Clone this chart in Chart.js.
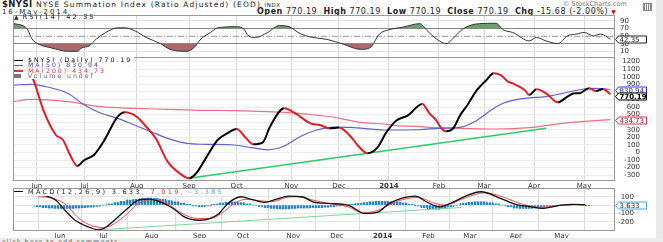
<!DOCTYPE html>
<html><head><meta charset="utf-8">
<script src="https://cdn.jsdelivr.net/npm/chart.js@4.4.0/dist/chart.umd.min.js"></script>
<style>
body{margin:0;width:663px;height:242px;overflow:hidden;background:#fff;position:relative;font-family:"DejaVu Sans",sans-serif;}
.t{position:absolute;white-space:nowrap;font-size:7.5px;line-height:8px;color:#222}
canvas{position:absolute;left:0}
.lg{position:absolute;left:14px;top:57px;background:#fff;font-size:6.2px;letter-spacing:2px;line-height:5.3px;white-space:nowrap;padding:0 2px 1px 0}
.lg i{display:inline-block;width:9px;height:1.5px;vertical-align:middle;margin-right:5px}
</style></head><body>

<div class="t" style="left:2px;top:0px;line-height:9px;letter-spacing:1.15px"><b style="font-size:8.5px;letter-spacing:0.4px">$NYSI</b> NYSE Summation Index (Ratio Adjusted) (EOD) <span style="font-size:5.5px;letter-spacing:0.6px">INDX</span></div>
<div class="t" style="left:563px;top:0px;color:#777;font-size:6.5px;letter-spacing:0px">© StockCharts.com</div>
<div style="position:absolute;left:643px;top:3px;width:7px;height:6px;border:1px solid #888;background:repeating-linear-gradient(90deg,#888 0 1px,#fff 1px 2px)"></div>
<div class="t" style="left:2px;top:7.5px;font-size:7px;letter-spacing:1.9px">16-May-2014</div>
<div class="t" style="left:257px;top:7.5px;font-size:8px;letter-spacing:0.55px"><b>Open</b> 770.19 &nbsp;<b>High</b> 770.19 &nbsp;<b>Low</b> 770.19 &nbsp;<b>Close</b> 770.19 &nbsp;<b>Chg</b> -15.68 (-2.00%) <span style="color:#d00;font-size:6px">▼</span></div>

<canvas id="rsi" width="663" height="44" style="top:14px"></canvas>
<canvas id="main" width="663" height="134" style="top:56px"></canvas>
<canvas id="macd" width="663" height="54" style="top:187px"></canvas>

<div class="t" style="left:14px;top:13px;font-size:6.5px;letter-spacing:2.2px"><span style="font-size:6px;letter-spacing:0;margin-right:4px">▲</span>RSI(14) 42.35</div>
<div class="lg">
<div><i style="background:#000"></i>$NYSI (Daily) 770.19</div>
<div style="color:#3a3ab8"><i style="background:#5b5bd6"></i>MA(50) 830.94</div>
<div style="color:#e0304a"><i style="background:#e0304a"></i>MA(200) 434.73</div>
<div style="color:#666"><i style="background:#777;height:4px;width:7px;margin-right:7px"></i>Volume undef</div>
</div>
<div class="t" style="left:14px;top:188.5px;font-size:6.5px;letter-spacing:2.3px;background:#fff;line-height:7px"><span style="display:inline-block;width:9px;height:1.5px;background:#000;vertical-align:middle;margin-right:5px"></span>MACD(12,26,9) 3.633<span style="color:#e33">, 7.019</span><span style="color:#4ab0e0">, -3.385</span></div>

<div style="position:absolute;left:656px;top:0;width:7px;height:242px;background:#e9e9e9"></div>
<div style="position:absolute;left:0;top:238px;width:663px;height:4px;background:#ececec"></div>
<div class="t" style="left:2px;top:238px;color:#666;font-size:6.5px;letter-spacing:1px">click here to add comments</div>

<script>
// ---- data (x = trading-day index, 0 = first trading day of Jun 2013) ----
const monthTicks  = [0, 20, 42, 64, 84, 107, 127, 148, 169, 188, 209, 230];
const monthLabels = ['Jun','Jul','Aug','Sep','Oct','Nov','Dec','2014','Feb','Mar','Apr','May'];

const rsiTicks  = [10, 30, 50, 70, 90];
const mainTicks = [-300,-200,-100,0,100,200,300,400,500,600,700,800,900,1000,1100,1200];
const macdTicks = [-200, -100, 0, 100];

const priceDays = [-10,-6,-2,3,8,11,14,17,20,24,28,34,37,42,46,50,55,60,64,67,71,76,80,84,88,91,95,98,104,109,115,119,123,127,132,135,139,143,147,151,156,162,165,168,170,172,175,178,181,185,189,192,195,198,200,205,207,210,214,219,223,226,228,232,235,238,241];
const priceVals = [1200,1110,1000,538,231,165,-33,-178,-99,-33,142,472,530,472,340,187,-121,-274,-340,-274,-77,165,253,310,187,108,134,340,583,510,385,363,319,330,208,90,-11,60,270,420,490,640,517,420,320,280,319,495,627,825,957,1045,1022,934,913,825,759,834,781,662,737,781,781,847,811,838,770.19];

const ma50Days = [-10,-2,4,13,20,27,34,41,48,55,63,71,83,90,97,104,111,118,125,132,146,160,171,177,184,191,196,205,214,221,230,235,241];
const ma50Vals = [890,900,868,781,627,517,451,363,274,187,121,108,99,65,35,85,215,300,335,332,297,300,322,327,406,561,649,715,737,781,838,847,830.94];

const ma200Days = [-10,-2,13,27,41,55,69,83,97,110,118,123,132,138,146,151,160,165,179,193,207,221,235,241];
const ma200Vals = [670,702,670,604,583,570,557,552,538,517,490,475,420,390,376,355,345,332,319,310,327,385,420,434.73];

const trendDays = [64, 214];
const trendVals = [-340, 319];

const rsiDays = [-10,-4,-2,1,6,13,17,19,22,25,29,34,37,41,46,52,56,63,66,69,73,76,84,87,89,92,97,102,106,111,116,122,129,136,140,144,148,154,161,164,168,172,176,179,186,193,196,200,207,210,214,219,223,227,230,234,237,241];
const rsiVals = [84,69,43,29,20,11,11,20,25,43,60,72,72,65,47,31,16,11,20,43,60,72,75,69,51,47,60,78,75,56,47,42,29,16,20,56,67,74,83,65,43,31,51,69,83,84,67,60,38,47,38,31,51,56,60,51,56,42.35];
const rsiMidDays = [-10, 243];
const rsiMidVals = [50, 50];

const macdDays = [-10,-6,-2,3,7,13,17,20,25,31,36,41,46,52,57,64,68,73,77,83,88,94,99,105,111,116,123,132,140,146,151,163,168,174,179,186,193,202,209,216,221,230,235,241];
const macdVals = [120,108,60,-81,-181,-261,-293,-281,-181,-40,60,72,40,-40,-141,-181,-169,-100,20,100,69,33,69,108,100,40,20,0,-100,-81,20,108,40,-20,20,108,160,81,8,-20,-40,0,8,3.633];

const sigDays = [-10,-3,3,8,14,20,25,31,36,43,49,56,63,69,74,80,85,92,97,104,109,116,123,132,139,146,154,164,172,177,184,195,203,210,220,230,241];
const sigVals = [100,81,0,-141,-241,-269,-221,-100,20,69,20,-100,-160,-160,-100,20,69,52,40,93,100,60,20,-20,-93,-60,40,93,20,0,69,148,100,28,-28,0,7.019];

const histDays = [-10,-7,-4,-1,2,5,8,11,14,17,20,23,26,29,32,35,38,41,44,47,50,53,56,59,62,65,68,71,74,77,80,83,86,89,92,95,98,101,104,107,110,113,116,119,122,125,128,131,134,137,140,143,146,149,152,155,158,161,164,167,170,173,176,179,182,185,188,191,194,197,200,203,206,209,212,215,218,221,224,227,230,233,236,239,242];
const histVals = [-20,-30,-35,-40,-40,-40,-35,-30,-25,-15,0,15,30,45,60,70,80,85,80,70,55,40,25,10,-10,-20,-10,10,25,35,40,30,15,0,-15,-30,-40,-45,-45,-40,-35,-35,-30,-30,-25,-20,-10,0,10,20,30,40,45,45,40,35,25,10,-10,-30,-45,-50,-40,-20,0,20,35,40,40,30,15,0,-20,-35,-40,-40,-35,-25,-15,-10,-5,0,5,0,-3.385];

const macdTrendDays = [20, 184];
const macdTrendVals = [-293, -28];

// ---- helpers ----
const FONT = '"DejaVu Sans", sans-serif';
const X_MIN = -10, X_MAX = 243;
const pts = (xs, ys) => xs.map((x, i) => ({x, y: ys[i]}));

function xScale(labelH) {
  return {
    type: 'linear', min: X_MIN, max: X_MAX,
    afterBuildTicks: s => { s.ticks = monthTicks.map(v => ({value: v})); },
    ticks: {
      display: labelH > 0, autoSkip: false, maxRotation: 0, padding: 1, color: '#333',
      font: c => ({family: FONT, size: 7, weight: (c.tick && c.tick.value === 148) ? 'bold' : 'normal'}),
      callback: v => monthLabels[monthTicks.indexOf(v)]
    },
    grid: {color: '#dadada', drawTicks: false},
    border: {display: false},
    afterFit: s => { s.height = labelH; s.paddingLeft = 0; s.paddingRight = 0; }
  };
}
function yScale(min, max, ticks, gridColor, w) {
  return {
    type: 'linear', position: 'right', min, max,
    afterBuildTicks: s => { s.ticks = ticks.map(v => ({value: v})); },
    ticks: {padding: 0, autoSkip: false, color: '#333', crossAlign: 'far', font: {family: FONT, size: 7}, callback: v => String(v)},
    grid: {color: gridColor, drawTicks: false},
    border: {display: false},
    afterFit: s => { s.width = w; s.paddingTop = 0; s.paddingBottom = 0; }
  };
}
const frame = {
  id: 'frame',
  afterDatasetsDraw(c) {
    const {ctx, chartArea: a} = c;
    ctx.save(); ctx.strokeStyle = '#9a9a9a'; ctx.lineWidth = 1;
    ctx.strokeRect(Math.round(a.left) + 0.5, Math.round(a.top) + 0.5, Math.round(a.right - a.left) - 1, Math.round(a.bottom - a.top) - 1);
    ctx.restore();
  }
};
function boxes(items) {
  return {
    id: 'vbox',
    afterDraw(c) {
      const ctx = c.ctx, y = c.scales.y, a = c.chartArea;
      const list = items.map(it => Object.assign({}, it, {py: y.getPixelForValue(it.value)}));
      list.sort((p, q) => p.py - q.py);
      for (let i = 1; i < list.length; i++) if (list[i].py - list[i-1].py < 6) list[i].py = list[i-1].py + 6;
      ctx.save(); ctx.textBaseline = 'middle';
      list.forEach(it => {
        const x0 = Math.round(a.right) + 0.5, h = 7, w = 31, yy = Math.round(it.py) + 0.5;
        ctx.beginPath();
        ctx.moveTo(x0, yy); ctx.lineTo(x0 + 3, yy - h/2); ctx.lineTo(x0 + w, yy - h/2);
        ctx.lineTo(x0 + w, yy + h/2); ctx.lineTo(x0 + 3, yy + h/2); ctx.closePath();
        ctx.fillStyle = '#fff'; ctx.fill(); ctx.strokeStyle = it.border; ctx.lineWidth = 1; ctx.stroke();
        ctx.fillStyle = it.color; ctx.font = (it.bold ? 'bold ' : '') + '7px ' + FONT;
        ctx.fillText(it.text, x0 + 4, yy + 0.5);
      });
      ctx.restore();
    }
  };
}
const base = (padRight, xs, ys) => ({
  responsive: false, animation: false, events: [],
  layout: {padding: {left: 13, right: padRight, top: 1, bottom: 0}},
  plugins: {legend: {display: false}, tooltip: {enabled: false}},
  elements: {point: {radius: 0}},
  scales: {x: xs, y: ys}
});

// striped fill for the histogram bars (daily-bar look)
const pc = document.createElement('canvas'); pc.width = 3; pc.height = 1;
const pcx = pc.getContext('2d');
pcx.fillStyle = '#2a82c0'; pcx.fillRect(0, 0, 2, 1);
pcx.fillStyle = '#a8cfe9'; pcx.fillRect(2, 0, 1, 1);
const stripe = pcx.createPattern(pc, 'repeat');

// ---- RSI ----
new Chart(document.getElementById('rsi'), {
  type: 'line',
  data: {datasets: [
    {data: pts(rsiDays, rsiVals), borderColor: '#333', borderWidth: 1, cubicInterpolationMode: 'monotone', fill: false},
    {data: pts(rsiMidDays, rsiMidVals), borderColor: '#999', borderWidth: 1, borderDash: [6, 2, 1, 2], fill: false},
    {data: pts(rsiDays, rsiVals), borderWidth: 0, borderColor: 'rgba(0,0,0,0)', cubicInterpolationMode: 'monotone',
      fill: {target: {value: 70}, above: '#6e9e6e', below: 'rgba(0,0,0,0)'}},
    {data: pts(rsiDays, rsiVals), borderWidth: 0, borderColor: 'rgba(0,0,0,0)', cubicInterpolationMode: 'monotone',
      fill: {target: {value: 30}, above: 'rgba(0,0,0,0)', below: '#a86a6a'}}
  ]},
  options: base(34, xScale(0), yScale(-6.5, 105.5, rsiTicks, c => (c.tick.value === 70 || c.tick.value === 30) ? '#8a8a8a' : (c.tick.value === 50 ? 'rgba(0,0,0,0)' : '#e4e4e4'), 14)),
  plugins: [frame, boxes([{value: rsiVals[rsiVals.length-1], text: '42.35', border: '#222', color: '#222'}])]
});

// ---- Main ----
new Chart(document.getElementById('main'), {
  type: 'line',
  data: {datasets: [
    {data: pts(priceDays, priceVals), borderWidth: 2, cubicInterpolationMode: 'monotone', fill: false,
      borderColor: '#000',
      segment: {borderColor: c => c.p1.parsed.y >= c.p0.parsed.y ? '#000' : '#e31b2b'}},
    {data: pts(trendDays, trendVals), borderColor: '#2ecc66', borderWidth: 1.5, fill: false},
    {data: pts(ma50Days, ma50Vals), borderColor: '#6161d0', borderWidth: 1.2, cubicInterpolationMode: 'monotone', fill: false},
    {data: pts(ma200Days, ma200Vals), borderColor: '#f07082', borderWidth: 1.2, cubicInterpolationMode: 'monotone', fill: false}
  ]},
  options: base(23, xScale(9), yScale(-376, 1260, mainTicks, '#ececec', 25)),
  plugins: [frame, boxes([
    {value: ma50Vals[ma50Vals.length-1], text: '830.94', border: '#3a3ad0', color: '#2a2aa0'},
    {value: priceVals[priceVals.length-1], text: '770.19', border: '#000', color: '#000', bold: true},
    {value: ma200Vals[ma200Vals.length-1], text: '434.73', border: '#e0304a', color: '#802030'}
  ])]
});

// ---- MACD ----
new Chart(document.getElementById('macd'), {
  type: 'bar',
  data: {datasets: [
    {type: 'line', data: pts(macdDays, macdVals), borderColor: '#111', borderWidth: 1.3, cubicInterpolationMode: 'monotone', fill: false},
    {type: 'line', data: pts(sigDays, sigVals), borderColor: '#ff4a4a', borderWidth: 1, cubicInterpolationMode: 'monotone', fill: false},
    {type: 'line', data: pts(macdTrendDays, macdTrendVals), borderColor: '#7fd69a', borderWidth: 1, fill: false},
    {type: 'bar', data: pts(histDays, histVals), backgroundColor: stripe, barPercentage: 1, categoryPercentage: 1}
  ]},
  options: base(29, xScale(10), yScale(-310, 205, macdTicks, '#e6e6e6', 19)),
  plugins: [frame, boxes([{value: macdVals[macdVals.length-1], text: '3.633', border: '#4ab0e0', color: '#222'}])]
});
</script>
</body></html>
